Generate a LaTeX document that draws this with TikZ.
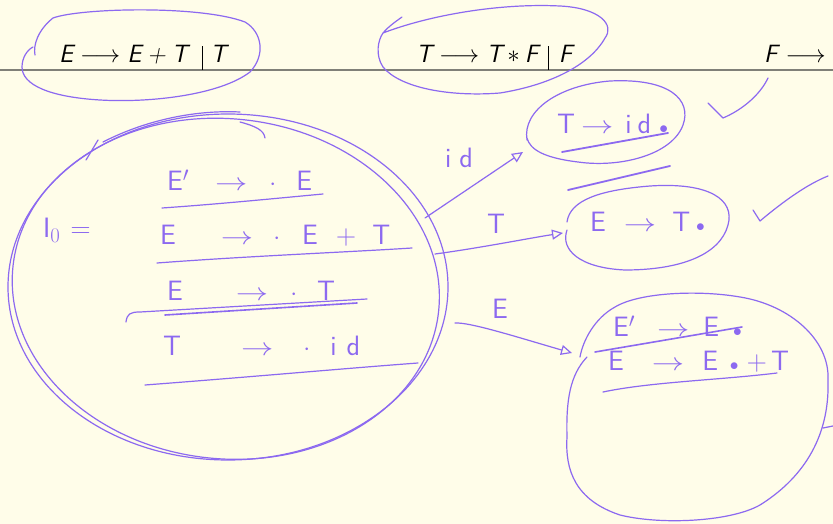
\documentclass[tikz,border=0pt]{standalone}
\usetikzlibrary{arrows.meta}
\definecolor{bg}{RGB}{255,253,233}
\definecolor{pen}{RGB}{140,105,240}
\definecolor{rule}{RGB}{128,128,120}
\newcommand{\hsp}[1]{\hspace*{#1pt}}
\newcommand{\harr}{\scalebox{1.3}[1]{$\rightarrow$}}
\newcommand{\hdot}{\scalebox{0.7}{$\bullet$}}
\newcommand{\gbar}{\rule[-7pt]{0.7pt}{24pt}}
\tikzset{
  pen/.style={draw=pen, line width=1.2pt, line cap=round, line join=round},
  hand/.style={text=pen, font=\sffamily\fontsize{28}{30}\selectfont, inner sep=0pt},
  gram/.style={text=black, font=\sffamily\itshape\fontsize{25}{27}\selectfont, inner sep=0pt},
  arr/.style={pen, -{Triangle[open,length=11pt,width=10pt]}},
}
\begin{document}
\begin{tikzpicture}[x=1pt,y=-1pt]
\fill[bg] (0,0) rectangle (833,524);
\useasboundingbox (0,0) rectangle (833,524);
% header
\draw[rule, line width=1.6pt] (0,70) -- (833,70);
\node[gram, anchor=base west] (g1) at (59,63) {E\hsp{7}$\longrightarrow$\hsp{7}E\hsp{6}+\hsp{6}T\hsp{14}\gbar\hsp{8}T};
\node[gram, anchor=base west] (g2) at (416,63) {T\hsp{7}$\longrightarrow$\hsp{7}T\hsp{5}$\ast$\hsp{5}F\hsp{10}\gbar\hsp{10}F};
\node[gram, anchor=base west] (g3) at (764,63) {F\hsp{8}$\longrightarrow$};
% circles on header
\draw[pen] (35,55) .. controls (33,45) and (38,30) .. (53,18) .. controls (80,8) and (200,5) .. (245,22)
  .. controls (262,32) and (266,55) .. (250,72) .. controls (220,95) and (150,103) .. (100,100)
  .. controls (50,97) and (22,85) .. (22,67) .. controls (22,58) and (27,50) .. (33,47);
\draw[pen] (402,17) .. controls (395,22) and (388,27) .. (383,33) .. controls (430,15) and (500,3) .. (560,6)
  .. controls (600,8) and (615,25) .. (605,38) .. controls (590,65) and (550,85) .. (500,93)
  .. controls (450,97) and (400,88) .. (383,67) .. controls (375,55) and (378,40) .. (383,33);
% check marks
\draw[pen] (708,103) -- (723,118) .. controls (742,110) and (760,95) .. (768,78);
\draw[pen] (753,210) -- (760,221) .. controls (785,200) and (808,184) .. (828,176);
\draw[pen] (823,428) -- (833,426);
% I0 big circle (double stroke)
\draw[pen] (228,287) ellipse [x radius=220, y radius=173];
\draw[pen, rotate around={-6:(228,287)}] (226,289) ellipse [x radius=214, y radius=170];
\draw[pen] (103,142) .. controls (150,118) and (200,110) .. (240,112);
\draw[pen] (240,122) .. controls (255,126) and (264,130) .. (265,138);
\draw[pen] (98,140) -- (86,160);
% I0 content
\node[hand, anchor=west] (i0) at (43,230) {I$_0$\hsp{10}=};
\node[hand, anchor=west] (p1) at (167,180) {E$'$\hsp{26}\harr\hsp{22}$\cdot$\hsp{20}E};
\draw[pen] (162,208) .. controls (220,204) and (280,198) .. (323,194);
\node[hand, anchor=west] (p2) at (160,236) {E\hsp{45}\harr\hsp{20}$\cdot$\hsp{22}E\hsp{18}+\hsp{16}T};
\draw[pen] (157,263) .. controls (250,256) and (350,252) .. (412,248);
\node[hand, anchor=west] (p3) at (167,291) {E\hsp{53}\harr\hsp{22}$\cdot$\hsp{20}T};
\draw[pen] (126,322) .. controls (127,314) and (130,312) .. (140,312) -- (367,299);
\draw[pen, line width=1.6pt] (165,315) -- (357,303);
\node[hand, anchor=west] (p4) at (163,346) {T\hsp{60}\harr\hsp{30}$\cdot$\hsp{20}i\hsp{10}d};
\draw[pen] (145,385) .. controls (250,377) and (350,368) .. (418,363);
% target 1
\node[hand, anchor=west] (q1) at (557,124) {T\hsp{6}\harr\hsp{12}i\hsp{6}d\hsp{8}\hdot};
\draw[pen] (527,140) .. controls (522,110) and (560,85) .. (610,81) .. controls (670,78) and (692,100) .. (683,125)
  .. controls (672,155) and (620,168) .. (578,162) .. controls (545,158) and (530,150) .. (527,138);
\draw[pen, line width=1.8pt] (562,152) -- (668,133);
\draw[pen, line width=1.8pt] (568,190) -- (670,166);
% target 2
\node[hand, anchor=west] (q2) at (590,222) {E\hsp{18}\harr\hsp{16}T\hsp{6}\hdot};
\draw[pen] (567,222) .. controls (570,200) and (600,190) .. (650,186) .. controls (710,182) and (735,200) .. (728,225)
  .. controls (720,255) and (680,270) .. (625,270) .. controls (580,268) and (560,250) .. (567,230);
% target 3
\node[hand, anchor=west] (q3a) at (613,326) {E$'$\hsp{22}\harr\hsp{14}E\hsp{14}\hdot};
\node[hand, anchor=west] (q3b) at (608,362) {E\hsp{28}\harr\hsp{18}E\hsp{12}\hdot\hsp{8}+\hsp{4}T};
\draw[pen, line width=1.6pt] (595,352) -- (742,327);
\draw[pen] (603,392) .. controls (650,382) and (720,380) .. (777,373);
\draw[pen] (580,357) .. controls (583,340) and (595,318) .. (615,307) .. controls (640,292) and (700,290) .. (740,297)
  .. controls (790,305) and (830,340) .. (828,380) .. controls (830,440) and (800,480) .. (760,505)
  .. controls (730,522) and (660,525) .. (620,515) .. controls (575,500) and (565,470) .. (567,437)
  .. controls (566,400) and (570,375) .. (587,357);
% connectors
\coordinate (s1) at (425,218);
\coordinate (s2) at (435,254);
\coordinate (s3) at (455,323);
\draw[arr] (s1) -- (523,152);
\draw[arr] (s2) .. controls (480,248) and (530,238) .. (563,233);
\draw[arr] (s3) .. controls (470,322) and (520,338) .. (572,353);
\node[hand] (l1) at (459,158) {i\hsp{8}d};
\node[hand] (l2) at (496,224) {T};
\node[hand] (l3) at (500,309) {E};
\end{tikzpicture}
\end{document}
